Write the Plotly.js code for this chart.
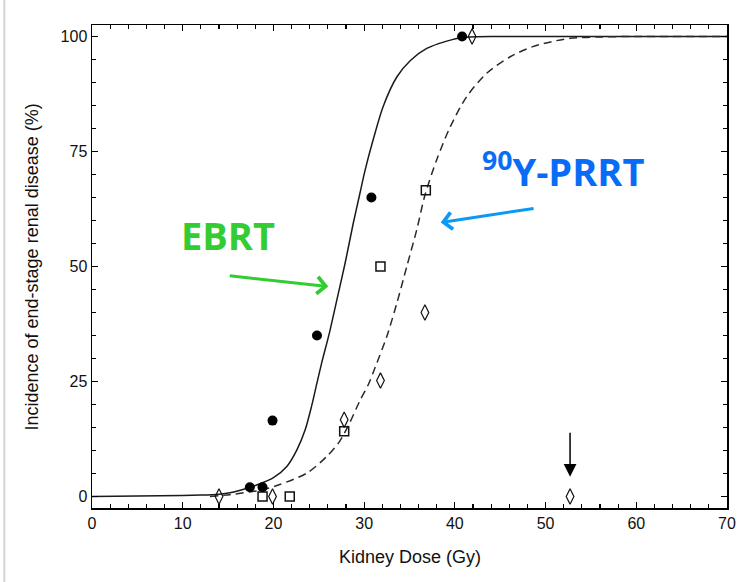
<!DOCTYPE html>
<html>
<head>
<meta charset="utf-8">
<script src="https://cdn.plot.ly/plotly-3.0.1.min.js"></script>
<style>html,body{margin:0;padding:0;background:#fff;}#chart{width:743px;height:582px;}</style>
</head>
<body>
<div id="chart"></div>
<script>
// EBRT fitted curve (solid)
const ebrtCurveX = [0, 10, 12, 14, 15.2, 17.4, 18.8, 20, 21.5, 22.6, 23.5, 24.2, 24.8, 25.3, 26.2, 27.0, 27.9, 28.8, 29.5, 30.1, 31.0, 32.1, 33.6, 35.1, 36.9, 39.1, 40.9, 45, 55, 70];
const ebrtCurveY = [0, 0.2, 0.3, 0.5, 0.8, 2.0, 3.0, 4.1, 6.6, 10.2, 14.5, 19.6, 24.7, 28.9, 35.8, 42.8, 50.7, 59.4, 65.6, 70.9, 77.6, 84.8, 91.2, 94.8, 97.4, 99.0, 99.8, 100, 100, 100];
// 90Y-PRRT fitted curve (dashed)
const prrtCurveX = [13, 15.2, 18.9, 20.7, 23.7, 25.9, 27.3, 28.4, 29.5, 30.5, 31.2, 32.5, 33.6, 34.7, 35.8, 36.7, 38.0, 39.5, 41.3, 43.5, 46.1, 48.6, 51.2, 52.7, 56, 60, 70];
const prrtCurveY = [0, 0.4, 1.5, 2.6, 5.1, 8.75, 12.0, 16.0, 20.7, 24.5, 28.0, 34.8, 42.0, 50.0, 58.0, 65.5, 73.2, 80.4, 86.9, 92.0, 95.6, 97.8, 99.1, 99.6, 99.9, 100, 100];
// Observed points
const circleX = [17.4, 18.8, 19.9, 24.8, 30.8, 40.8];
const circleY = [2, 2, 16.5, 35, 65, 100];
const squareX = [18.8, 21.8, 27.8, 31.8, 36.8];
const squareY = [0, 0, 14.2, 50, 66.6];
const diamondX = [14, 19.9, 27.8, 31.8, 36.7, 41.9, 52.7];
const diamondY = [0, 0, 16.7, 25.2, 40, 100, 0];
// Tick labels
const xTickVals = [0, 10, 20, 30, 40, 50, 60, 70];
const yTickVals = [0, 25, 50, 75, 100];

const traces = [
  {x: ebrtCurveX, y: ebrtCurveY, mode: 'lines', line: {color: '#1a1a1a', width: 1.5, shape: 'spline', smoothing: 0.8}, hoverinfo: 'skip'},
  {x: prrtCurveX, y: prrtCurveY, mode: 'lines', line: {color: '#2a2a2a', width: 1.5, dash: '8px,5px', shape: 'spline', smoothing: 0.8}, hoverinfo: 'skip'},
  {x: squareX, y: squareY, mode: 'markers', marker: {symbol: 'square-open', size: 9, color: '#111', line: {width: 1.5}}},
  {x: diamondX, y: diamondY, mode: 'markers', marker: {symbol: 'diamond-tall-open', size: 11, color: '#111', line: {width: 1.2}}},
  {x: circleX, y: circleY, mode: 'markers', marker: {symbol: 'circle', size: 10, color: '#000'}}
];

const textFont = 'Liberation Sans, Arial, sans-serif';
const axisCommon = {
  showline: true, linecolor: '#000', linewidth: 1.5, mirror: 'ticks',
  ticks: 'inside', ticklen: 6, tickwidth: 1.2, tickcolor: '#000',
  showgrid: false, zeroline: false,
  tickfont: {family: textFont, size: 16, color: '#111'}
};

const layout = {
  width: 743, height: 582,
  margin: {l: 92, r: 16, t: 25, b: 74},
  paper_bgcolor: '#fff', plot_bgcolor: '#fff',
  showlegend: false,
  xaxis: Object.assign({}, axisCommon, {
    range: [0, 70], tickvals: xTickVals,
    minor: {dtick: 2, ticks: 'inside', ticklen: 4, tickcolor: '#000', tickwidth: 1.2}
  }),
  yaxis: Object.assign({}, axisCommon, {
    range: [-2.5, 102.5], tickvals: yTickVals,
    minor: {dtick: 5, ticks: 'inside', ticklen: 4, tickcolor: '#000', tickwidth: 1.2}
  }),
  shapes: [
    {type: 'line', xref: 'paper', yref: 'paper', x0: -0.138, x1: -0.138, y0: -0.16, y1: 1.06, line: {color: '#d4d4d4', width: 2}}
  ],
  annotations: [
    {x: 0.5, y: -0.101, xref: 'paper', yref: 'paper', xanchor: 'center', yanchor: 'middle', showarrow: false,
     text: 'Kidney Dose (Gy)', font: {family: textFont, size: 18, color: '#111'}},
    {x: -0.0945, y: 0.5, xref: 'paper', yref: 'paper', xanchor: 'center', yanchor: 'middle', showarrow: false, textangle: -90,
     text: 'Incidence of end-stage renal disease (%)', font: {family: textFont, size: 18, color: '#111'}},
    {x: 15.0, y: 56.8, xref: 'x', yref: 'y', text: '<b>EBRT</b>', showarrow: false,
     font: {family: 'Open Sans, sans-serif', size: 38, color: '#33cc33'}},
    {x: 51.9, y: 71.0, xref: 'x', yref: 'y', text: '<b><sup>90</sup>Y-PRRT</b>', showarrow: false,
     font: {family: 'Open Sans, sans-serif', size: 38, color: '#0a6cf5'}},
    {x: 26.05, y: 45.66, ax: 15.02, ay: 48.0, xref: 'x', yref: 'y', axref: 'x', ayref: 'y', text: '',
     showarrow: true, arrowhead: 4, arrowsize: 1.1, arrowwidth: 3, arrowcolor: '#33cc33'},
    {x: 38.44, y: 59.55, ax: 48.84, ay: 62.68, xref: 'x', yref: 'y', axref: 'x', ayref: 'y', text: '',
     showarrow: true, arrowhead: 4, arrowsize: 1.1, arrowwidth: 3, arrowcolor: '#0a9af5'},
    {x: 52.7, y: 4.3, ax: 52.7, ay: 14.2, xref: 'x', yref: 'y', axref: 'x', ayref: 'y', text: '',
     showarrow: true, arrowhead: 2, arrowsize: 1.7, arrowwidth: 1.5, arrowcolor: '#000'}
  ]
};

Plotly.newPlot('chart', traces, layout, {staticPlot: true, displayModeBar: false});
</script>
</body>
</html>
